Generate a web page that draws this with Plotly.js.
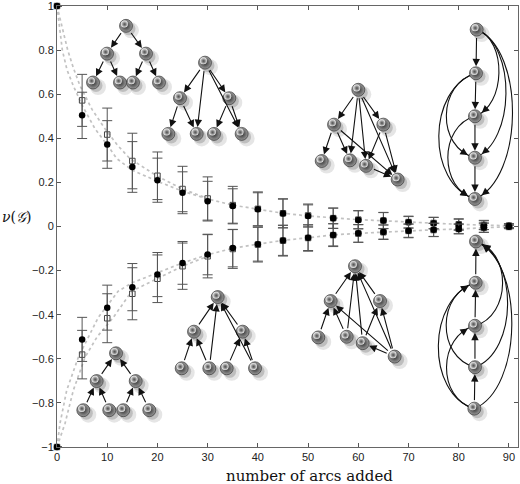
<!DOCTYPE html>
<html><head><meta charset="utf-8">
<script src="https://cdn.plot.ly/plotly-3.0.1.min.js"></script>
<style>html,body{margin:0;padding:0;background:#fff}#chart{width:520px;height:484px}</style>
</head><body><div id="chart"></div>
<script>
// ---------- data ----------
const arcsAdded = [0,5,10,15,20,25,30,35,40,45,50,55,60,65,70,75,80,85,90];
const upperCircle    = [1,0.504,0.372,0.270,0.210,0.153,0.115,0.093,0.078,0.059,0.048,0.037,0.030,0.027,0.019,0.015,0.008,0.006,0.003];
const upperCircleErr = [0,0.105,0.108,0.115,0.100,0.095,0.090,0.078,0.075,0.065,0.050,0.046,0.041,0.036,0.026,0.026,0.025,0.020,0.009];
const upperSquare    = [1,0.572,0.417,0.297,0.230,0.170,0.127,0.097,0.080,0.060,0.050,0.038,0.031,0.027,0.020,0.016,0.010,0.007,0.004];
const upperSquareErr = [0,0.118,0.120,0.126,0.108,0.103,0.098,0.085,0.077,0.066,0.052,0.046,0.041,0.037,0.027,0.026,0.025,0.021,0.009];
const lowerCircle    = [-1,-0.512,-0.368,-0.275,-0.218,-0.165,-0.127,-0.098,-0.080,-0.063,-0.051,-0.038,-0.031,-0.025,-0.019,-0.015,-0.011,-0.005,-0.001];
const lowerCircleErr = [0,0.100,0.102,0.107,0.100,0.097,0.092,0.085,0.077,0.068,0.058,0.050,0.040,0.032,0.030,0.030,0.022,0.021,0.008];
const lowerSquare    = [-1,-0.581,-0.416,-0.305,-0.237,-0.180,-0.135,-0.102,-0.082,-0.064,-0.052,-0.039,-0.032,-0.026,-0.020,-0.016,-0.011,-0.006,-0.002];
const lowerSquareErr = [0,0.110,0.111,0.118,0.108,0.105,0.098,0.088,0.079,0.070,0.060,0.052,0.040,0.033,0.031,0.030,0.022,0.021,0.008];

// dotted reference curves
const trendUpAX = [0,1.06,2,3.25,5,7.57,10,11.9,15,20,25,30,35,40,45,50,55,60,65,70,75,80,85,90];
const trendUpAY = [1,0.80,0.71,0.638,0.55,0.443,0.37,0.308,0.255,0.205,0.16,0.125,0.097,0.078,0.06,0.048,0.038,0.031,0.026,0.019,0.015,0.01,0.006,0.003];
const trendUpBX = [0,1,2.13,3.25,4.58,7,9.56,12,14.5,20,25,30];
const trendUpBY = [1,0.9,0.8,0.72,0.638,0.53,0.443,0.37,0.308,0.228,0.17,0.127];
const trendLoAX = [0,0.6,1.93,4.25,8.2,12.2,15,20,25,30,35,40,45,50,55,60,65,70,75,80,85,90];
const trendLoAY = [-1,-0.893,-0.743,-0.593,-0.413,-0.293,-0.255,-0.21,-0.165,-0.128,-0.099,-0.08,-0.063,-0.051,-0.038,-0.031,-0.025,-0.019,-0.015,-0.011,-0.005,-0.001];
const trendLoBX = [0,1.6,3.25,5.58,8,11.2,14.9,20,25,30];
const trendLoBY = [-1,-0.893,-0.743,-0.593,-0.5,-0.413,-0.293,-0.237,-0.18,-0.135];

const xTicks = [0,10,20,30,40,50,60,70,80,90];
const yTicks = [-1,-0.8,-0.6,-0.4,-0.2,0,0.2,0.4,0.6,0.8,1];
const yTickText = ['\u22121','\u22120.8','\u22120.6','\u22120.4','\u22120.2','0','0.2','0.4','0.6','0.8','1'];

// ---------- inset graph drawings (node placement in chart units) ----------
const g1X = [13.74,9.96,17.72,7.17,12.54,15.13,20.31];
const g1Y = [0.910,0.784,0.784,0.653,0.653,0.653,0.653];
const g1E = [[0,1],[0,2],[1,3],[1,4],[2,5],[2,6]];
const g2X = [29.47,24.49,34.31,22.17,27.82,31.26,36.77];
const g2Y = [0.743,0.582,0.582,0.420,0.420,0.420,0.420];
const g2E = [[0,1],[0,2],[0,4],[0,6],[1,3],[1,4],[2,5],[2,6]];
const g3X = [60.0,55.16,64.98,52.71,58.34,61.53,67.84];
const g3Y = [0.620,0.462,0.462,0.297,0.300,0.275,0.213];
const g3E = [[0,1],[0,2],[0,4],[0,5],[0,6],[1,3],[1,4],[1,6],[2,5],[2,6],[5,6]];
const g4X = [83.57,83.43,83.23,83.23,83.23];
const g4Y = [0.893,0.695,0.5,0.312,0.125];
const g4E = [[0,1],[1,2],[2,3],[3,4]];
const g4C = [[0,2,4.6],[0,3,6.0],[0,4,7.3],[1,3,-5.8],[1,4,-7.3],[2,4,-5.4]];
const g5X = [11.75,7.9,15.67,5.24,10.41,13.2,18.38];
const g5Y = [-0.575,-0.701,-0.701,-0.833,-0.833,-0.833,-0.833];
const g5E = [[1,0],[2,0],[3,1],[4,1],[5,2],[6,2]];
const g6X = [32.0,27.28,36.97,24.83,30.33,33.79,39.43];
const g6Y = [-0.320,-0.477,-0.477,-0.643,-0.643,-0.643,-0.643];
const g6E = [[1,0],[2,0],[4,0],[6,0],[3,1],[4,1],[5,2],[6,2]];
const g7X = [59.34,54.5,64.32,52.03,57.69,60.87,67.24];
const g7Y = [-0.180,-0.338,-0.338,-0.503,-0.5,-0.529,-0.590];
const g7E = [[1,0],[2,0],[4,0],[5,0],[6,0],[3,1],[4,1],[6,1],[5,2],[6,2],[6,5]];
const g8X = [83.43,83.37,83.23,83.23,83.1];
const g8Y = [-0.068,-0.255,-0.45,-0.638,-0.826];
const g8E = [[1,0],[2,1],[3,2],[4,3]];
const g8C = [[2,0,5.4],[3,0,6.4],[4,0,7.3],[3,1,-5.8],[4,1,-7.3],[4,2,-5.6]];

// ---------- build ----------
const X0 = 0, X1 = 91.8;
const M = {l:57, r:2, t:6, b:37};
const pxPerX = (520 - M.l - M.r) / (X1 - X0), pxPerY = (484 - M.t - M.b) / 2;

const traces = [];
const dotLine = {color:'#c2c2c2', width:1.7, dash:'dot'};
[[trendUpAX,trendUpAY],[trendUpBX,trendUpBY],[trendLoAX,trendLoAY],[trendLoBX,trendLoBY]].forEach(p => {
  traces.push({x:p[0], y:p[1], type:'scatter', mode:'lines', line:dotLine, hoverinfo:'skip', cliponaxis:false});
});

function errSeries(y, e, symbol, filled) {
  return {
    x: arcsAdded, y: y, type:'scatter', mode:'markers', cliponaxis:false,
    marker: filled ? {symbol:symbol, size:6.5, color:'#000'} :
                     {symbol:symbol, size:5.5, color:'#444', line:{color:'#444', width:1}},
    error_y: {type:'data', array:e, visible:true, color:'#555', thickness:1, width:5}
  };
}
traces.push(errSeries(upperSquare, upperSquareErr, 'square-open', false));
traces.push(errSeries(lowerSquare, lowerSquareErr, 'square-open', false));
traces.push(errSeries(upperCircle, upperCircleErr, 'circle', true));
traces.push(errSeries(lowerCircle, lowerCircleErr, 'circle', true));

const shapes = [];
const annotations = [];
const allNX = [], allNY = [];

function toPx(p) { return [p[0]*pxPerX, p[1]*pxPerY]; }
function pdist(a, b) { const A = toPx(a), B = toPx(b); return Math.hypot(A[0]-B[0], A[1]-B[1]); }

function arrow(head, tail, standoff) {
  annotations.push({x:head[0], y:head[1], ax:tail[0], ay:tail[1], xref:'x', yref:'y', axref:'x', ayref:'y',
    text:'', showarrow:true, arrowhead:2, arrowsize:1.35, arrowwidth:1.1, arrowcolor:'#111',
    standoff:standoff, startstandoff:standoff});
}

function addGraph(xs, ys, edges, curves) {
  xs.forEach((v, i) => { allNX.push(v); allNY.push(ys[i]); });
  edges.forEach(e => arrow([xs[e[1]], ys[e[1]]], [xs[e[0]], ys[e[0]]], 7));
  (curves || []).forEach(c => {
    const p0 = [xs[c[0]], ys[c[0]]], p3 = [xs[c[1]], ys[c[1]]];
    const d = c[2] / 0.75, dy = p3[1] - p0[1];
    const p1 = [p0[0] + d, p0[1] + dy*0.12], p2 = [p3[0] + d, p3[1] - dy*0.12];
    shapes.push({type:'path', xref:'x', yref:'y', layer:'below',
      path:`M ${p0[0]},${p0[1]} C ${p1[0]},${p1[1]} ${p2[0]},${p2[1]} ${p3[0]},${p3[1]}`,
      line:{color:'#111', width:1.1}});
    const bz = t => { const u = 1-t; return [
      u*u*u*p0[0] + 3*u*u*t*p1[0] + 3*u*t*t*p2[0] + t*t*t*p3[0],
      u*u*u*p0[1] + 3*u*u*t*p1[1] + 3*u*t*t*p2[1] + t*t*t*p3[1]]; };
    let th = 1; while (th > 0 && pdist(bz(th), p3) < 7.5) th -= 0.002;
    let tt = th; while (tt > 0 && pdist(bz(tt), p3) < 15) tt -= 0.002;
    arrow(bz(th), bz(tt), 0);
  });
}
addGraph(g1X, g1Y, g1E);
addGraph(g2X, g2Y, g2E);
addGraph(g3X, g3Y, g3E);
addGraph(g4X, g4Y, g4E, g4C);
addGraph(g5X, g5Y, g5E);
addGraph(g6X, g6Y, g6E);
addGraph(g7X, g7Y, g7E);
addGraph(g8X, g8Y, g8E, g8C);

// node shadows and spheres
const shift = (arr, px, per) => arr.map(v => v + px/per);
traces.push({x:shift(allNX, 5, pxPerX), y:shift(allNY, -4.5, pxPerY), type:'scatter', mode:'markers',
  marker:{size:16, color:'rgba(0,0,0,0.10)'}, hoverinfo:'skip'});
traces.push({x:shift(allNX, 3, pxPerX), y:shift(allNY, -3, pxPerY), type:'scatter', mode:'markers',
  marker:{size:13, color:'rgba(0,0,0,0.17)'}, hoverinfo:'skip'});
traces.push({x:allNX, y:allNY, type:'scatter', mode:'markers', hoverinfo:'skip',
  marker:{size:13, color:'#9a9a9a', gradient:{type:'radial', color:'#2e2e2e'}, line:{color:'#222', width:0.6}}});
traces.push({x:shift(allNX, -1.6, pxPerX), y:shift(allNY, 1.8, pxPerY), type:'scatter', mode:'markers', hoverinfo:'skip',
  marker:{size:7, color:'rgba(250,250,250,0.95)', gradient:{type:'radial', color:'rgba(170,170,170,0)'}}});

// labels
annotations.push({xref:'paper', yref:'y', x:-0.124, y:0.045, xanchor:'left', yanchor:'middle', showarrow:false,
  text:'<i>\u03BD</i>(<i>\uD835\uDCA2</i>)', font:{family:'DejaVu Serif, Liberation Serif, serif', size:14, color:'#111'}});
annotations.push({xref:'x', yref:'paper', x:50.2, y:-0.066, xanchor:'center', yanchor:'middle', showarrow:false,
  text:'number of arcs added', font:{family:'DejaVu Serif, Liberation Serif, serif', size:15, color:'#111'}});

const axisCommon = {ticks:'inside', ticklen:4, tickcolor:'#555', mirror:'ticks', showline:true, linecolor:'#666',
  linewidth:1, showgrid:false, zeroline:false, fixedrange:true, ticklabeloverflow:'allow',
  tickfont:{family:'Liberation Sans, Arial, sans-serif', size:11, color:'#222'}};

const layout = {
  width:520, height:484, margin:M,
  paper_bgcolor:'#fff', plot_bgcolor:'#fff', showlegend:false, hovermode:false,
  xaxis: Object.assign({range:[X0, X1], tickvals:xTicks}, axisCommon),
  yaxis: Object.assign({range:[-1, 1], tickvals:yTicks, ticktext:yTickText}, axisCommon),
  shapes: shapes, annotations: annotations
};
Plotly.newPlot('chart', traces, layout, {staticPlot:true, displayModeBar:false});
</script></body></html>
